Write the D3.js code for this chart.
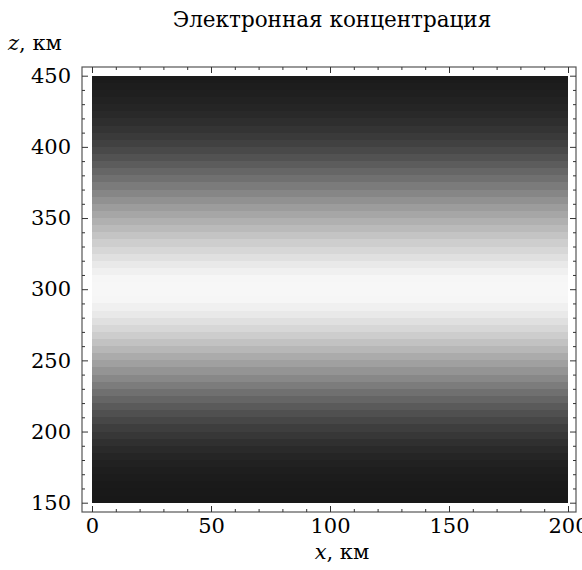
<!DOCTYPE html>
<html><head><meta charset="utf-8">
<script src="https://cdn.jsdelivr.net/npm/d3@7"></script>
<style>body{margin:0;background:#fff}svg{display:block}
svg text{font-family:"DejaVu Serif","Liberation Serif",serif !important;}</style>
</head><body>
<script>
// Band lower bounds (km) and gray levels
const bandZ = [445,440,435,430,425,420,415,410,405,400,395,390,385,380,375,370,365,360,355,350,345,340,335,330,325,320,315,310,305,300,295,290,285,280,275,270,265,260,255,250,245,240,235,230,225,220,215,210,205,200,195,190,185,180,175,170,165,160,155,150];
const bandGray = [27,29,31,34,37,41,46,52,58,65,73,82,92,102,112,123,134,145,156,166,176,186,196,206,215,224,233,240,246,247,247,246,240,233,224,215,205,194,183,171,160,148,136,124,112,101,90,80,71,62,55,48,42,37,33,30,28,26,25,24];
const bandStep = 5;
const xRange = [0, 200];
const zRange = [150, 450];
const xMajor = [0, 50, 100, 150, 200];
const zMajor = [150, 200, 250, 300, 350, 400, 450];
const xMinor = d3.range(0, 201, 10).filter(v => v % 50 !== 0);
const zMinor = d3.range(150, 451, 10).filter(v => v % 50 !== 0);
const title = "Электронная концентрация";

const W = 582, H = 570;
const frame = {l: 82, r: 576, t: 67, b: 512};
const x = d3.scaleLinear().domain(xRange).range([92, 568]);
const y = d3.scaleLinear().domain(zRange).range([502.7, 75.7]);

const svg = d3.select("body").append("svg").attr("width", W).attr("height", H);

// bands
svg.append("g").selectAll("rect").data(bandZ).join("rect")
  .attr("x", x(xRange[0])).attr("width", x(xRange[1]) - x(xRange[0]))
  .attr("y", (d) => y(d + bandStep))
  .attr("height", (d) => y(d) - y(d + bandStep))
  .attr("fill", (d, i) => d3.rgb(bandGray[i], bandGray[i], bandGray[i]))
  .attr("shape-rendering", "crispEdges");

// frame
svg.append("rect").attr("x", frame.l).attr("y", frame.t)
  .attr("width", frame.r - frame.l).attr("height", frame.b - frame.t)
  .attr("fill", "none").attr("stroke", "#555").attr("stroke-width", 1.2);

function styleAxis(g) {
  g.attr("font-family", null).attr("font-size", null);
  g.select(".domain").remove();
  g.selectAll("line").attr("stroke", "#333").attr("stroke-width", 1);
  g.selectAll("text").attr("font-size", 21).attr("fill", "#000");
}
// bottom
svg.append("g").attr("transform", `translate(0,${frame.b})`)
  .call(d3.axisBottom(x).tickValues(xMajor).tickSize(-6).tickPadding(6).tickFormat(d3.format("d")))
  .call(styleAxis);
svg.append("g").attr("transform", `translate(0,${frame.b})`)
  .call(d3.axisBottom(x).tickValues(xMinor).tickSize(-3).tickFormat("")).call(styleAxis);
// top
svg.append("g").attr("transform", `translate(0,${frame.t})`)
  .call(d3.axisTop(x).tickValues(xMajor).tickSize(-6).tickFormat("")).call(styleAxis);
svg.append("g").attr("transform", `translate(0,${frame.t})`)
  .call(d3.axisTop(x).tickValues(xMinor).tickSize(-3).tickFormat("")).call(styleAxis);
// left
svg.append("g").attr("transform", `translate(${frame.l},0)`)
  .call(d3.axisLeft(y).tickValues(zMajor).tickSize(-6).tickPadding(11).tickFormat(d3.format("d")))
  .call(styleAxis);
svg.append("g").attr("transform", `translate(${frame.l},0)`)
  .call(d3.axisLeft(y).tickValues(zMinor).tickSize(-3).tickFormat("")).call(styleAxis);
// right
svg.append("g").attr("transform", `translate(${frame.r},0)`)
  .call(d3.axisRight(y).tickValues(zMajor).tickSize(-6).tickFormat("")).call(styleAxis);
svg.append("g").attr("transform", `translate(${frame.r},0)`)
  .call(d3.axisRight(y).tickValues(zMinor).tickSize(-3).tickFormat("")).call(styleAxis);

// title
svg.append("text").attr("x", 332).attr("y", 27).attr("text-anchor", "middle")
  .attr("font-size", 21.5).text(title);
// axis labels
const zl = svg.append("text").attr("x", 8).attr("y", 50).attr("font-size", 21);
zl.append("tspan").attr("font-style", "italic").text("z");
zl.append("tspan").text(", км");
const xl = svg.append("text").attr("x", 342).attr("y", 559).attr("text-anchor", "middle")
  .attr("font-size", 21);
xl.append("tspan").attr("font-style", "italic").text("x");
xl.append("tspan").text(", км");
</script>
</body></html>
